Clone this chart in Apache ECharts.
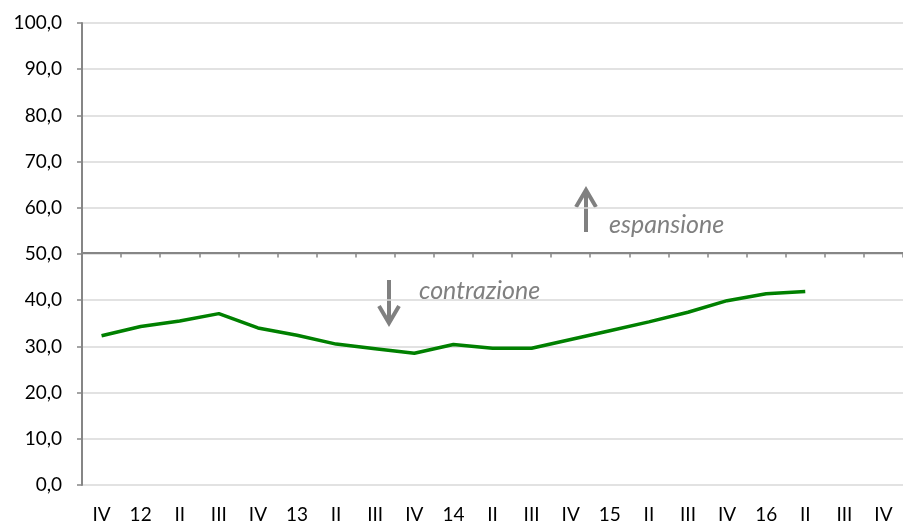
<!DOCTYPE html>
<html>
<head>
<meta charset="utf-8">
<script src="https://cdn.jsdelivr.net/npm/echarts@6/dist/echarts.min.js"></script>
<style>
  html, body { margin: 0; padding: 0; background: #fff; }
  #chart { width: 903px; height: 524px; }
</style>
</head>
<body>
<div id="chart"></div>
<script>
// Quarters (Roman numeral) with year marker on the first quarter
const categories = ['IV', '12', 'II', 'III', 'IV', '13', 'II', 'III', 'IV', '14', 'II', 'III',
                    'IV', '15', 'II', 'III', 'IV', '16', 'II', 'III', 'IV'];
// Indicator values (50 = threshold between expansion and contraction)
const indexValues = [32.3, 34.3, 35.5, 37.1, 34.0, 32.4, 30.5, 29.5, 28.5, 30.4, 29.6, 29.6,
                     31.5, 33.4, 35.3, 37.4, 39.9, 41.4, 41.9, null, null];
// Value axis range
const yMin = 0, yMax = 100, yStep = 10;
const threshold = 50;

const FONT = 'Lato, "Open Sans", sans-serif';
const chart = echarts.init(document.getElementById('chart'), null, { renderer: 'canvas' });

const gridTop = 23, gridHeight = 465;
// the secondary category axis is drawn along the threshold line
const thresholdOffset = -gridHeight * (threshold - yMin) / (yMax - yMin);

const arrowStyle = { stroke: '#808080', lineWidth: 4, fill: null };

chart.setOption({
  animation: false,
  backgroundColor: '#ffffff',
  grid: { left: 82, top: gridTop, width: 832, height: gridHeight },
  xAxis: [
    {
      type: 'category',
      data: categories,
      boundaryGap: true,
      axisLine: { show: false },
      axisTick: { show: false },
      axisLabel: { color: '#000', fontFamily: FONT, fontSize: 19, margin: 20, interval: 0 }
    },
    {
      type: 'category',
      data: categories,
      boundaryGap: true,
      position: 'bottom',
      offset: thresholdOffset,
      axisLine: { show: true, lineStyle: { color: '#868686', width: 2 } },
      axisTick: { show: true, length: 5, interval: 0, lineStyle: { color: '#868686', width: 1.5 } },
      axisLabel: { show: false }
    }
  ],
  yAxis: {
    type: 'value',
    min: yMin, max: yMax, interval: yStep,
    axisLine: { show: true, lineStyle: { color: '#868686', width: 2 } },
    axisTick: { show: true, length: 5, lineStyle: { color: '#868686', width: 1.5 } },
    axisLabel: {
      color: '#000', fontFamily: FONT, fontSize: 19, margin: 20,
      formatter: v => v.toFixed(1).replace('.', ',')
    },
    splitLine: { show: true, lineStyle: { color: '#d9d9d9', width: 1.5 } }
  },
  series: [{
    type: 'line',
    xAxisIndex: 0,
    data: indexValues,
    symbol: 'none',
    connectNulls: false,
    lineStyle: { color: '#008000', width: 3.5 },
    itemStyle: { color: '#008000' }
  }],
  graphic: [
    // expansion arrow and label
    { type: 'polyline', shape: { points: [[586, 232], [586, 190]] }, style: arrowStyle },
    { type: 'polyline', shape: { points: [[576, 207], [586, 190], [596, 207]] }, style: arrowStyle },
    { type: 'text', x: 609, y: 225, style: { text: 'espansione', fill: '#808080', font: 'italic 25px ' + FONT, verticalAlign: 'middle' } },
    // contraction arrow and label
    { type: 'polyline', shape: { points: [[389, 280], [389, 323]] }, style: arrowStyle },
    { type: 'polyline', shape: { points: [[379, 306], [389, 323], [399, 306]] }, style: arrowStyle },
    { type: 'text', x: 419, y: 291, style: { text: 'contrazione', fill: '#808080', font: 'italic 25px ' + FONT, verticalAlign: 'middle' } }
  ]
});
</script>
</body>
</html>
